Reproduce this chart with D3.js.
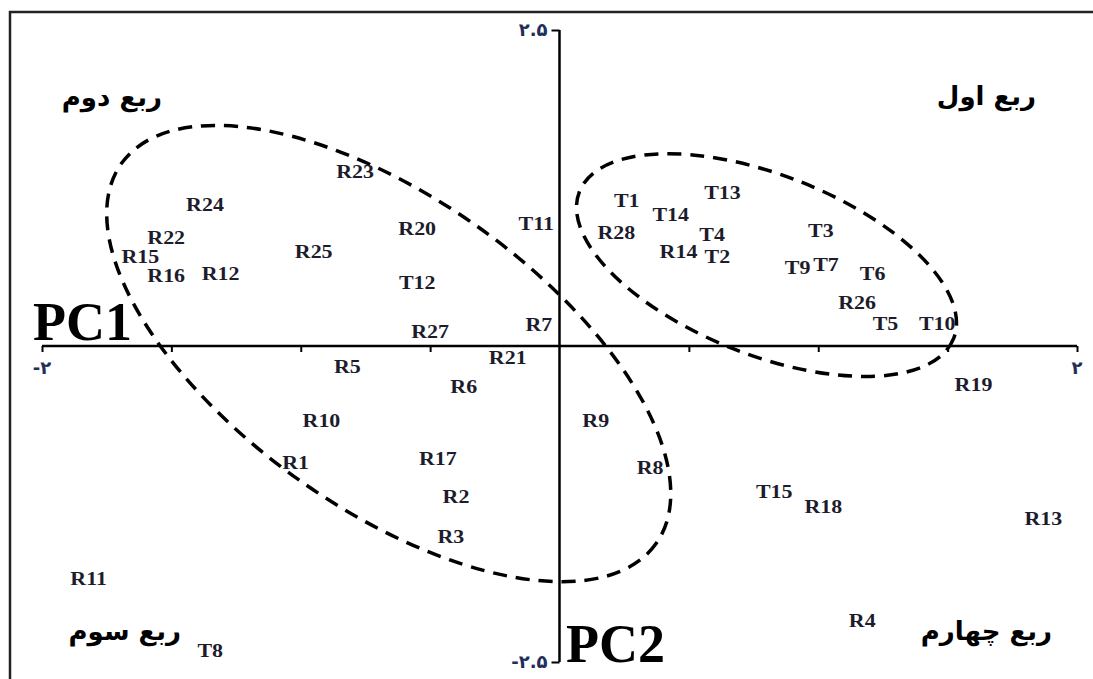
<!DOCTYPE html>
<html>
<head>
<meta charset="utf-8">
<script src="https://cdn.jsdelivr.net/npm/d3@7"></script>
<style>
  body { margin: 0; background: #fff; }
  .pt { font-family: "Liberation Serif", "DejaVu Serif", serif; font-weight: bold; font-size: 18px; fill: #1c1c2c; }
  .quad { font-family: "DejaVu Sans", sans-serif; font-weight: bold; font-size: 26px; fill: #000; }
  .pc { font-family: "Liberation Serif", serif; font-weight: bold; font-size: 54px; fill: #000; }
  .tk { font-family: "DejaVu Sans", sans-serif; font-weight: bold; font-size: 18px; fill: #1f2f5a; }
</style>
</head>
<body>
<script>
// point labels and their PC1 / PC2 scores
var names = ["R23","R24","R22","R15","R16","R12","R25","R20","T11","R28",
             "T1","T14","T13","T4","R14","T2","T3","T9","T7","T6",
             "R26","T5","T10","T12","R27","R7","R21","R5","R6","R10",
             "R1","R17","R2","R3","R9","R8","R19","T15","R18","R13",
             "R11","R4","T8"];
var pc1 = [-0.79,-1.37,-1.52,-1.62,-1.52,-1.31,-0.95,-0.55,-0.09,0.22,
           0.26,0.43,0.63,0.59,0.46,0.61,1.01,0.92,1.03,1.21,
           1.15,1.26,1.46,-0.55,-0.50,-0.08,-0.20,-0.82,-0.37,-0.92,
           -1.02,-0.47,-0.40,-0.42,0.14,0.35,1.60,0.83,1.02,1.87,
           -1.82,1.17,-1.35];
var pc2 = [1.38,1.12,0.86,0.71,0.56,0.57,0.75,0.93,0.97,0.90,
           1.15,1.04,1.21,0.88,0.75,0.71,0.91,0.62,0.64,0.57,
           0.34,0.18,0.18,0.50,0.11,0.17,-0.09,-0.16,-0.32,-0.59,
           -0.92,-0.89,-1.19,-1.51,-0.59,-0.96,-0.31,-1.15,-1.27,-1.37,
           -1.84,-2.17,-2.41];

// axis tick labels (persian digits)
var xTickVals = [-2, 2];
var xTickText = ["-۲", "۲"];
var yTickVals = [2.5, -2.5];
var yTickText = ["۲.۵", "-۲.۵"];

// quadrant titles
var quadNames = ["ربع اول", "ربع دوم", "ربع سوم", "ربع چهارم"];
var quadX = [1.65, -1.73, -1.68, 1.65];
var quadY = [1.98, 1.97, -2.25, -2.25];

// dashed groups: centre in data units
var grpCx = [-0.66, 0.80];
var grpCy = [-0.06, 0.64];

var W = 1093, H = 679;

var svg = d3.select("body").append("svg")
    .attr("width", W)
    .attr("height", H);

var x = d3.scaleLinear().domain([-2, 2]).range([42, 1077]);
var y = d3.scaleLinear().domain([-2.5, 2.5]).range([662, 30]);

// frame
svg.append("path")
    .attr("d", "M10," + H + " V12 H" + W)
    .attr("fill", "none")
    .attr("stroke", "#222")
    .attr("stroke-width", 2.5);

// x axis through 0
var xAxis = d3.axisBottom(x)
    .tickValues([-2, -1.5, -1, -0.5, 0.5, 1, 1.5, 2])
    .tickSize(6)
    .tickFormat("");
var gx = svg.append("g")
    .attr("transform", "translate(0," + y(0) + ")")
    .call(xAxis);
gx.select(".domain").attr("d", "M" + x(-2) + ",0H" + x(2)).attr("stroke-width", 2.5);
gx.selectAll(".tick line").attr("stroke-width", 2);

// y axis through 0
var yAxis = d3.axisLeft(y)
    .tickValues([-2.5, 2.5])
    .tickSize(8)
    .tickFormat("");
var gy = svg.append("g")
    .attr("transform", "translate(" + x(0) + ",0)")
    .call(yAxis);
gy.select(".domain").attr("d", "M0," + y(2.5) + "V" + y(-2.5)).attr("stroke-width", 2.5);
gy.selectAll(".tick line").attr("stroke-width", 2);

// tick labels
svg.selectAll(".xt").data(xTickVals).enter().append("text")
    .attr("class", "tk")
    .attr("x", (d, i) => x(d))
    .attr("y", y(0) + 28)
    .attr("text-anchor", "middle")
    .text((d, i) => xTickText[i]);

svg.selectAll(".yt").data(yTickVals).enter().append("text")
    .attr("class", "tk")
    .attr("x", x(0) - 12)
    .attr("y", d => y(d) + 6)
    .attr("text-anchor", "end")
    .text((d, i) => yTickText[i]);

// dashed ellipses
var rx = [328, 201], ry = [155, 90], rot = [35.4, 21.4];
svg.selectAll(".grp").data(grpCx).enter().append("ellipse")
    .attr("cx", 0).attr("cy", 0)
    .attr("rx", (d, i) => rx[i])
    .attr("ry", (d, i) => ry[i])
    .attr("transform", (d, i) => "translate(" + x(d) + "," + y(grpCy[i]) + ") rotate(" + rot[i] + ")")
    .attr("fill", "none")
    .attr("stroke", "#000")
    .attr("stroke-width", 3.5)
    .attr("stroke-dasharray", "14,9");

// point labels (the source figure is stretched sideways)
svg.selectAll(".pt").data(names).enter().append("text")
    .attr("class", "pt")
    .attr("transform", (d, i) => "translate(" + x(pc1[i]) + "," + y(pc2[i]) + ") scale(1.22,1)")
    .attr("dy", "0.35em")
    .attr("text-anchor", "middle")
    .text(d => d);

// quadrant titles
svg.selectAll(".quad").data(quadNames).enter().append("text")
    .attr("class", "quad")
    .attr("x", (d, i) => x(quadX[i]))
    .attr("y", (d, i) => y(quadY[i]))
    .attr("dy", "0.35em")
    .attr("text-anchor", "middle")
    .attr("direction", "rtl")
    .text(d => d);

// PC labels
svg.append("text").attr("class", "pc")
    .attr("x", 33).attr("y", 340)
    .text("PC1");
svg.append("text").attr("class", "pc")
    .attr("x", 566).attr("y", 662)
    .text("PC2");
</script>
</body>
</html>
